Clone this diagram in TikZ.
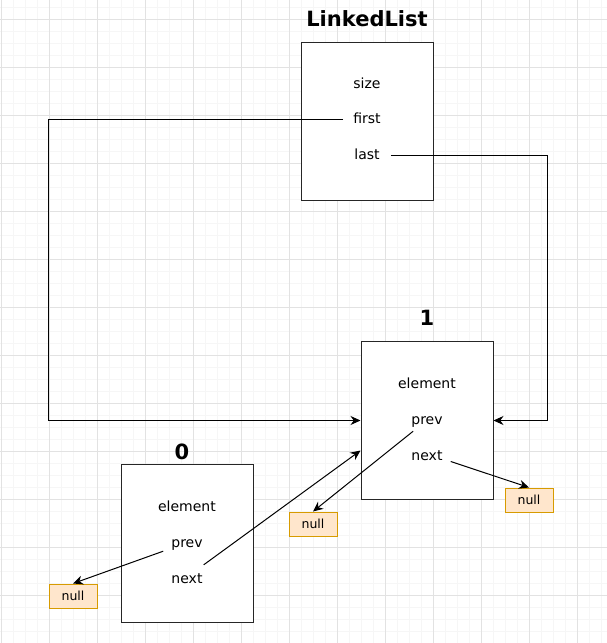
\documentclass[tikz,border=0pt]{standalone}
\usepackage{fontspec}
\setmainfont{DejaVu Sans}
\usetikzlibrary{positioning}
\usetikzlibrary{arrows.meta}

\definecolor{nullfill}{HTML}{FFE6CC}
\definecolor{nullline}{HTML}{D79B00}
\definecolor{gridmajor}{HTML}{E2E2E2}
\definecolor{gridminor}{HTML}{F6F6F6}

\begin{document}
\begin{tikzpicture}[
    x=1pt, y=-1pt,
    box/.style={rectangle, draw=black!85, line width=1pt, fill=white, minimum width=132pt, minimum height=158pt},
    title/.style={inner sep=0pt, font=\fontsize{21}{25}\selectfont\bfseries},
    field/.style={inner sep=0pt, anchor=base, text height=10pt, text depth=3pt, font=\fontsize{14}{17}\selectfont},
    nullbox/.style={rectangle, draw=nullline, fill=nullfill, line width=1pt, minimum width=48pt, minimum height=24pt, inner sep=0pt, font=\fontsize{12.5}{14}\selectfont},
    link/.style={-{Stealth[length=10pt, width=9pt]}, line width=1pt}
]

% Background grid
\useasboundingbox (0,0) rectangle (607,643);
\fill[white] (0,0) rectangle (607,643);
\foreach \gx in {1,13,...,601} \draw[gridminor, line width=0.8pt] (\gx,0) -- (\gx,643);
\foreach \gy in {7,19,...,643} \draw[gridminor, line width=0.8pt] (0,\gy) -- (607,\gy);
\foreach \gx in {1,49,...,601} \draw[gridmajor, line width=1pt] (\gx,0) -- (\gx,643);
\foreach \gy in {19,67,...,643} \draw[gridmajor, line width=1pt] (0,\gy) -- (607,\gy);

% Boxes
\node[box] (ll) at (367,121) {};
\node[box] (n1) at (427,420.5) {};
\node[box] (n0) at (187,543) {};

% Titles
\node[title, above=15pt of ll] (lltitle) {LinkedList};
\node[title, above=15pt of n1] (n1title) {1};
\node[title, above=4pt of n0, xshift=-5pt] (n0title) {0};

% Fields
\node[field] (llsize) at (367,88) {size};
\node[field] (llfirst) at (367,123) {first};
\node[field] (lllast) at (367,159) {last};

\node[field] (n1elem) at (427,388) {element};
\node[field] (n1prev) at (427,424) {prev};
\node[field] (n1next) at (427,460) {next};

\node[field] (n0elem) at (187,511) {element};
\node[field] (n0prev) at (187,547) {prev};
\node[field] (n0next) at (187,583) {next};

% Null ends
\node[nullbox] (null0) at (73,596) {null};
\node[nullbox] (null1a) at (313,524) {null};
\node[nullbox] (null1b) at (529,500) {null};

% Links
\draw[link, shorten <=10pt] (llfirst.west) -| ([xshift=-312pt]n1.west) -- (n1.west);
\draw[link, shorten <=11pt] (lllast.east) -| ([xshift=54pt]n1.east) -- (n1.east);
\draw[link] ([shift={(2pt,-4pt)}]n1prev.south west) -- (null1a.north);
\draw[link] ([shift={(8pt,-5pt)}]n1next.east) -- (null1b.north);
\draw[link] ([shift={(-8pt,-1pt)}]n0prev.south west) -- (null0.north);
\draw[link] ([shift={(1pt,8pt)}]n0next.north east) -- ([yshift=-30pt]n1.west);

\end{tikzpicture}
\end{document}
